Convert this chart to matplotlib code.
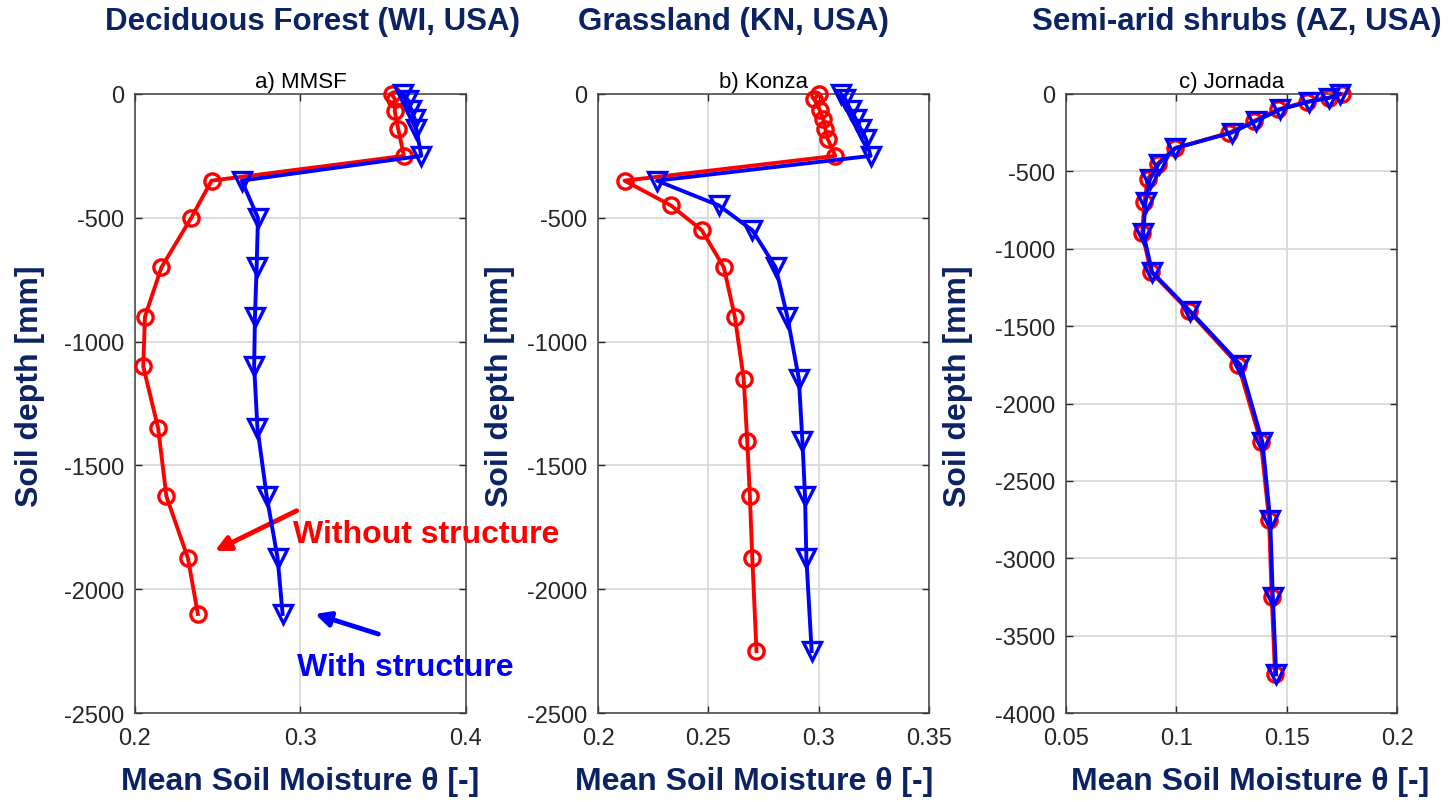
import matplotlib
matplotlib.use('Agg')
import matplotlib.pyplot as plt
from matplotlib.ticker import FuncFormatter

plt.rcParams['font.family'] = ['Liberation Sans', 'DejaVu Sans']
plt.rcParams['axes.unicode_minus'] = False

NAVY = '#0b2363'
GRAY = '#262626'

# a) MMSF, Deciduous Forest
mmsf_depth_ns = [0, -20, -70, -140, -250, -350, -500, -700, -900, -1100, -1350, -1625, -1875, -2100]
mmsf_theta_ns = [0.355, 0.357, 0.357, 0.359, 0.3625, 0.2463, 0.234, 0.216, 0.206, 0.205, 0.214, 0.219, 0.232, 0.238]
mmsf_depth_ws = [0, -25, -65, -100, -140, -250, -350, -500, -700, -900, -1100, -1350, -1625, -1875, -2100]
mmsf_theta_ws = [0.362, 0.365, 0.367, 0.369, 0.370, 0.373, 0.2645, 0.2743, 0.2735, 0.2725, 0.272, 0.274, 0.2796, 0.2862, 0.2892]

# b) Konza, Grassland
konza_depth = [0, -20, -65, -100, -140, -180, -250, -350, -450, -550, -700, -900, -1150, -1400, -1625, -1875, -2250]
konza_theta_ns = [0.300, 0.298, 0.3005, 0.302, 0.303, 0.304, 0.3075, 0.212, 0.233, 0.247, 0.257, 0.262,
                  0.266, 0.2676, 0.2688, 0.2699, 0.2718]
konza_theta_ws = [0.310, 0.312, 0.3145, 0.3168, 0.319, 0.3214, 0.3235, 0.2267, 0.2547, 0.2699, 0.2805, 0.2858,
                  0.291, 0.2926, 0.2938, 0.2944, 0.2968]

# c) Jornada, Semi-arid shrubs
jornada_depth = [0, -25, -50, -100, -175, -250, -350, -450, -550, -700, -900, -1150, -1400, -1750,
                 -2250, -2750, -3250, -3750]
jornada_theta_ns = [0.175, 0.169, 0.159, 0.146, 0.135, 0.124, 0.0995, 0.0915, 0.087, 0.0855, 0.0845, 0.0885,
                    0.1055, 0.128, 0.1383, 0.142, 0.1432, 0.1447]
jornada_theta_ws = [0.174, 0.169, 0.160, 0.147, 0.136, 0.125, 0.0995, 0.092, 0.088, 0.086, 0.085, 0.089,
                    0.106, 0.129, 0.139, 0.1425, 0.1437, 0.1452]

site_titles = ['Deciduous Forest (WI, USA)', 'Grassland (KN, USA)', 'Semi-arid shrubs (AZ, USA)']
panel_titles = ['a) MMSF', 'b) Konza', 'c) Jornada']
x_ticks = [[0.2, 0.3, 0.4], [0.2, 0.25, 0.3, 0.35], [0.05, 0.1, 0.15, 0.2]]
y_ticks = [list(range(0, -3000, -500)), list(range(0, -3000, -500)), list(range(0, -4500, -500))]

# label placement per panel (axes fraction)
xlabel_x = [0.5, 0.473, 0.555]
ylabel_x = [-0.272, -0.252, -0.28]


def style_axes(ax, xt, yt, sub):
    ax.set_xlim(xt[0], xt[-1])
    ax.set_ylim(yt[-1], yt[0])
    ax.set_xticks(xt)
    ax.set_yticks(yt)
    ax.xaxis.set_major_formatter(FuncFormatter(lambda v, p: '%g' % v))
    ax.grid(True, color='#d9d9d9', linewidth=1.3)
    ax.set_axisbelow(True)
    ax.tick_params(direction='in', length=5, width=1, top=True, right=True,
                   labelsize=17, colors=GRAY, pad=8)
    ax.tick_params(axis='x', pad=10)
    for s in ax.spines.values():
        s.set_color('#404040')
        s.set_linewidth(1.1)
    ax.set_title(sub, fontsize=16, color='black', pad=5)
    ax.set_xlabel('Mean Soil Moisture θ [-]', fontsize=23, fontweight='bold', color=NAVY)
    ax.set_ylabel('Soil depth [mm]', fontsize=23, fontweight='bold', color=NAVY)


def plot_profiles(ax, theta_ns, depth_ns, theta_ws, depth_ws):
    ax.plot(theta_ns, depth_ns, color='red', linewidth=2.8, marker='o', markersize=11,
            markerfacecolor='none', markeredgewidth=2.4, clip_on=False, zorder=3)
    ax.plot(theta_ws, depth_ws, color='blue', linewidth=2.8, marker='v', markersize=13,
            markerfacecolor='none', markeredgewidth=2.4, clip_on=False, zorder=4)


def main():
    fig = plt.figure(figsize=(14.53, 8.03), dpi=100)
    lefts = [0.0929, 0.4116, 0.7337]
    axes = [fig.add_axes([l, 0.1108, 0.2278, 0.7709]) for l in lefts]

    plot_profiles(axes[0], mmsf_theta_ns, mmsf_depth_ns, mmsf_theta_ws, mmsf_depth_ws)
    plot_profiles(axes[1], konza_theta_ns, konza_depth, konza_theta_ws, konza_depth)
    plot_profiles(axes[2], jornada_theta_ns, jornada_depth, jornada_theta_ws, jornada_depth)

    for i, ax in enumerate(axes):
        style_axes(ax, x_ticks[i], y_ticks[i], panel_titles[i])
        ax.xaxis.set_label_coords(xlabel_x[i], -0.085)
        ax.yaxis.set_label_coords(ylabel_x[i], 0.53)

    # site names above each panel
    title_x = [0.215, 0.505, 0.851]
    for tx, name in zip(title_x, site_titles):
        fig.text(tx, 0.972, name, ha='center', va='center', fontsize=22.5,
                 fontweight='bold', color=NAVY)

    ax = axes[0]
    ax.annotate('', xy=(0.2483, -1845), xytext=(0.2977, -1683),
                arrowprops=dict(arrowstyle='-|>', color='red', lw=3.5, mutation_scale=22,
                                shrinkA=0, shrinkB=0), annotation_clip=False)
    ax.text(0.2955, -1777, 'Without structure', color='red', fontsize=23, fontweight='bold',
            ha='left', va='center', clip_on=False, zorder=5)
    ax.annotate('', xy=(0.3088, -2100), xytext=(0.347, -2181),
                arrowprops=dict(arrowstyle='-|>', color='blue', lw=3.5, mutation_scale=22,
                                shrinkA=0, shrinkB=0), annotation_clip=False)
    ax.text(0.2977, -2314, 'With structure', color='blue', fontsize=23, fontweight='bold',
            ha='left', va='center', clip_on=False, zorder=5)

    fig.savefig('out.png', dpi=100)
    return 0


if __name__ == '__main__':
    main()
